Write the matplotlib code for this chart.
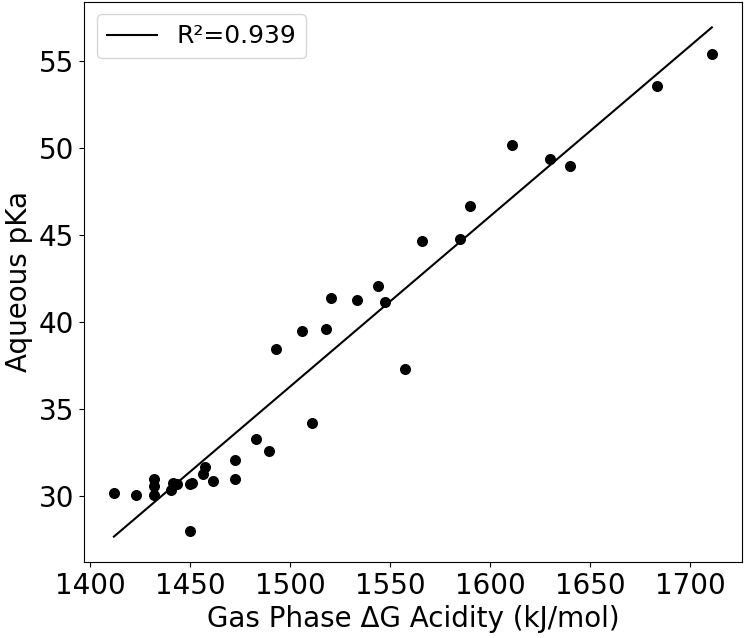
import numpy as np
import matplotlib
matplotlib.use("Agg")
import matplotlib.pyplot as plt

# Gas phase ΔG acidity (kJ/mol)
gas_dg = [1411.8, 1423.1, 1432.0, 1432.0, 1432.0, 1440.4, 1441.2, 1443.2,
          1449.8, 1450.0, 1451.0, 1456.4, 1457.4, 1461.4, 1472.6, 1472.6,
          1482.8, 1489.2, 1492.8, 1505.9, 1510.9, 1518.0, 1520.3, 1533.3,
          1543.8, 1547.5, 1557.6, 1565.7, 1585.0, 1590.0, 1611.0, 1630.0,
          1639.9, 1683.5, 1710.8]
# Aqueous pKa
aq_pka = [30.2, 30.11, 31.01, 30.58, 30.11, 30.39, 30.77, 30.71,
          28.03, 30.71, 30.78, 31.3, 31.7, 30.89, 32.08, 31.01,
          33.28, 32.6, 38.5, 39.5, 34.2, 39.6, 41.38, 41.3,
          42.1, 41.2, 37.3, 44.7, 44.8, 46.7, 50.2, 49.4,
          49.0, 53.6, 55.4]

legend_label = "R²=0.939"
x_label = "Gas Phase ΔG Acidity (kJ/mol)"
y_label = "Aqueous pKa"

x = np.array(gas_dg)
y = np.array(aq_pka)
slope, intercept = np.polyfit(x, y, 1)
xfit = np.array([x.min(), x.max()])
yfit = slope * xfit + intercept

fig = plt.figure(figsize=(7.5, 6.38), dpi=100)
ax = fig.add_axes([0.112, 0.119, 0.877, 0.878])
ax.scatter(x, y, s=48, color="black", zorder=3)
ax.plot(xfit, yfit, color="black", linewidth=1.5, label=legend_label)

ax.set_xticks([1400, 1450, 1500, 1550, 1600, 1650, 1700])
ax.set_yticks([30, 35, 40, 45, 50, 55])
ax.tick_params(labelsize=20)
ax.set_xlabel(x_label, fontsize=20)
ax.set_ylabel(y_label, fontsize=20)
ax.legend(loc="upper left", fontsize=18)

fig.savefig("out.png", dpi=100)
